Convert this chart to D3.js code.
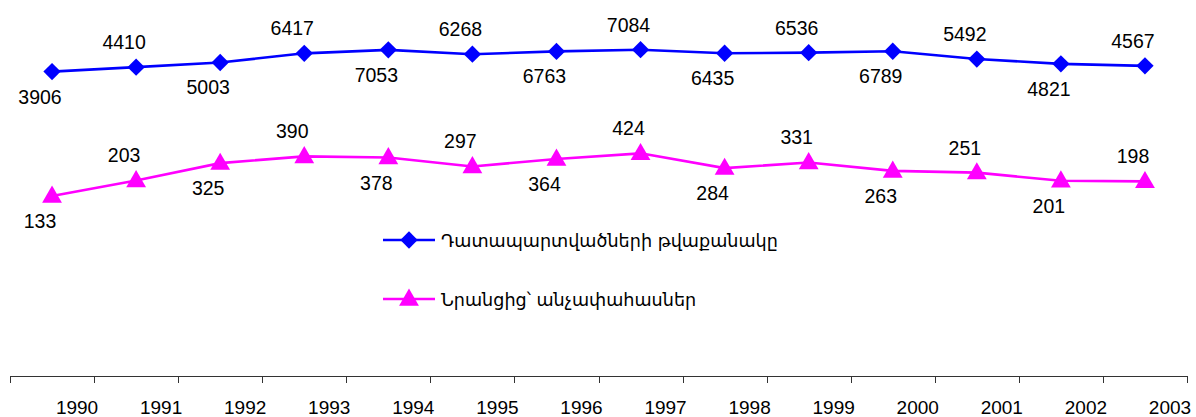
<!DOCTYPE html>
<html>
<head>
<meta charset="utf-8">
<script src="https://cdn.jsdelivr.net/npm/d3@7/dist/d3.min.js"></script>
<style>
  html, body { margin: 0; padding: 0; background: #fff; }
  svg { display: block; }
</style>
</head>
<body>
<svg id="chart" width="1196" height="417"></svg>
<script>
const years = ["1990","1991","1992","1993","1994","1995","1996","1997","1998","1999","2000","2001","2002","2003"];
const convicted = [3906, 4410, 5003, 6417, 7053, 6268, 6763, 7084, 6435, 6536, 6789, 5492, 4821, 4567];
const minors = [133, 203, 325, 390, 378, 297, 364, 424, 284, 331, 263, 251, 201, 198];
const seriesNames = ["Դատապարտվածների թվաքանակը", "Նրանցից՝ անչափահասներ"];

const W = 1196, H = 417;
const svg = d3.select("#chart");

const x = d3.scaleBand().domain(years).range([10, 1187]).paddingInner(0).paddingOuter(0);
const y = d3.scaleLog().domain([1, 10000]).range([376, 37]);

const numFont = "'Liberation Sans', Arial, sans-serif";

// X axis
const axisY = 376;
const axisG = svg.append("g").attr("transform", `translate(0,${axisY})`);
axisG.append("line").attr("x1", x.range()[0]).attr("x2", x.range()[1]).attr("y1", 0.5).attr("y2", 0.5)
  .attr("stroke", "#333").attr("stroke-width", 1);
const boundaries = years.map(d => x(d)).concat([x.range()[1]]);
axisG.selectAll("line.tick").data(boundaries).join("line").attr("class", "tick")
  .attr("x1", d => Math.round(d) + 0.5).attr("x2", d => Math.round(d) + 0.5)
  .attr("y1", 0).attr("y2", 7).attr("stroke", "#333").attr("stroke-width", 1);
axisG.selectAll("text").data(years).join("text")
  .attr("x", d => x(d) + x.bandwidth() / 2 + 25)
  .attr("y", 38)
  .attr("text-anchor", "middle")
  .attr("font-family", numFont).attr("font-size", 19).attr("fill", "#000")
  .text(d => d);

const series = [
  { name: seriesNames[0], values: convicted, color: "#0000FF", marker: d3.symbolSquare, size: 150, rot: 45 },
  { name: seriesNames[1], values: minors, color: "#FF00FF", marker: d3.symbolTriangle, size: 170, rot: 0 }
];

const cx = d => x(d) + x.bandwidth() / 2;
const line = d3.line().x(d => cx(d.year)).y(d => y(d.v));

series.forEach(s => {
  const pts = years.map((yr, i) => ({ year: yr, v: s.values[i], i }));
  const g = svg.append("g");
  g.append("path").datum(pts).attr("d", line).attr("fill", "none")
    .attr("stroke", s.color).attr("stroke-width", 2.6);
  g.selectAll("path.m").data(pts).join("path").attr("class", "m")
    .attr("d", d3.symbol().type(s.marker).size(s.size))
    .attr("transform", d => `translate(${cx(d.year)},${y(d.v) + (s.rot ? 0 : 1)}) rotate(${s.rot})`)
    .attr("fill", s.color);
  g.selectAll("text").data(pts).join("text")
    .attr("x", d => cx(d.year) - 12)
    .attr("y", d => y(d.v) + (d.i % 2 === 0 ? 32 : -18))
    .attr("text-anchor", "middle")
    .attr("font-family", numFont).attr("font-size", 19.5).attr("fill", "#000")
    .text(d => d.v);
});

// Legend
const legend = svg.append("g");
series.forEach((s, i) => {
  const ly = 240 + i * 59;
  const lg = legend.append("g").attr("transform", `translate(383,${ly})`);
  lg.append("line").attr("x1", 0).attr("x2", 52).attr("y1", 0).attr("y2", 0)
    .attr("stroke", s.color).attr("stroke-width", 2.6);
  lg.append("path").attr("d", d3.symbol().type(s.marker).size(s.size))
    .attr("transform", `translate(26,${s.rot ? 0 : 1}) rotate(${s.rot})`)
    .attr("fill", s.color);
  lg.append("text").attr("x", 58).attr("y", 7)
    .attr("font-family", "'DejaVu Sans', 'Noto Sans', sans-serif").attr("font-size", 17.6)
    .attr("fill", "#000").text(s.name);
});
</script>
</body>
</html>
